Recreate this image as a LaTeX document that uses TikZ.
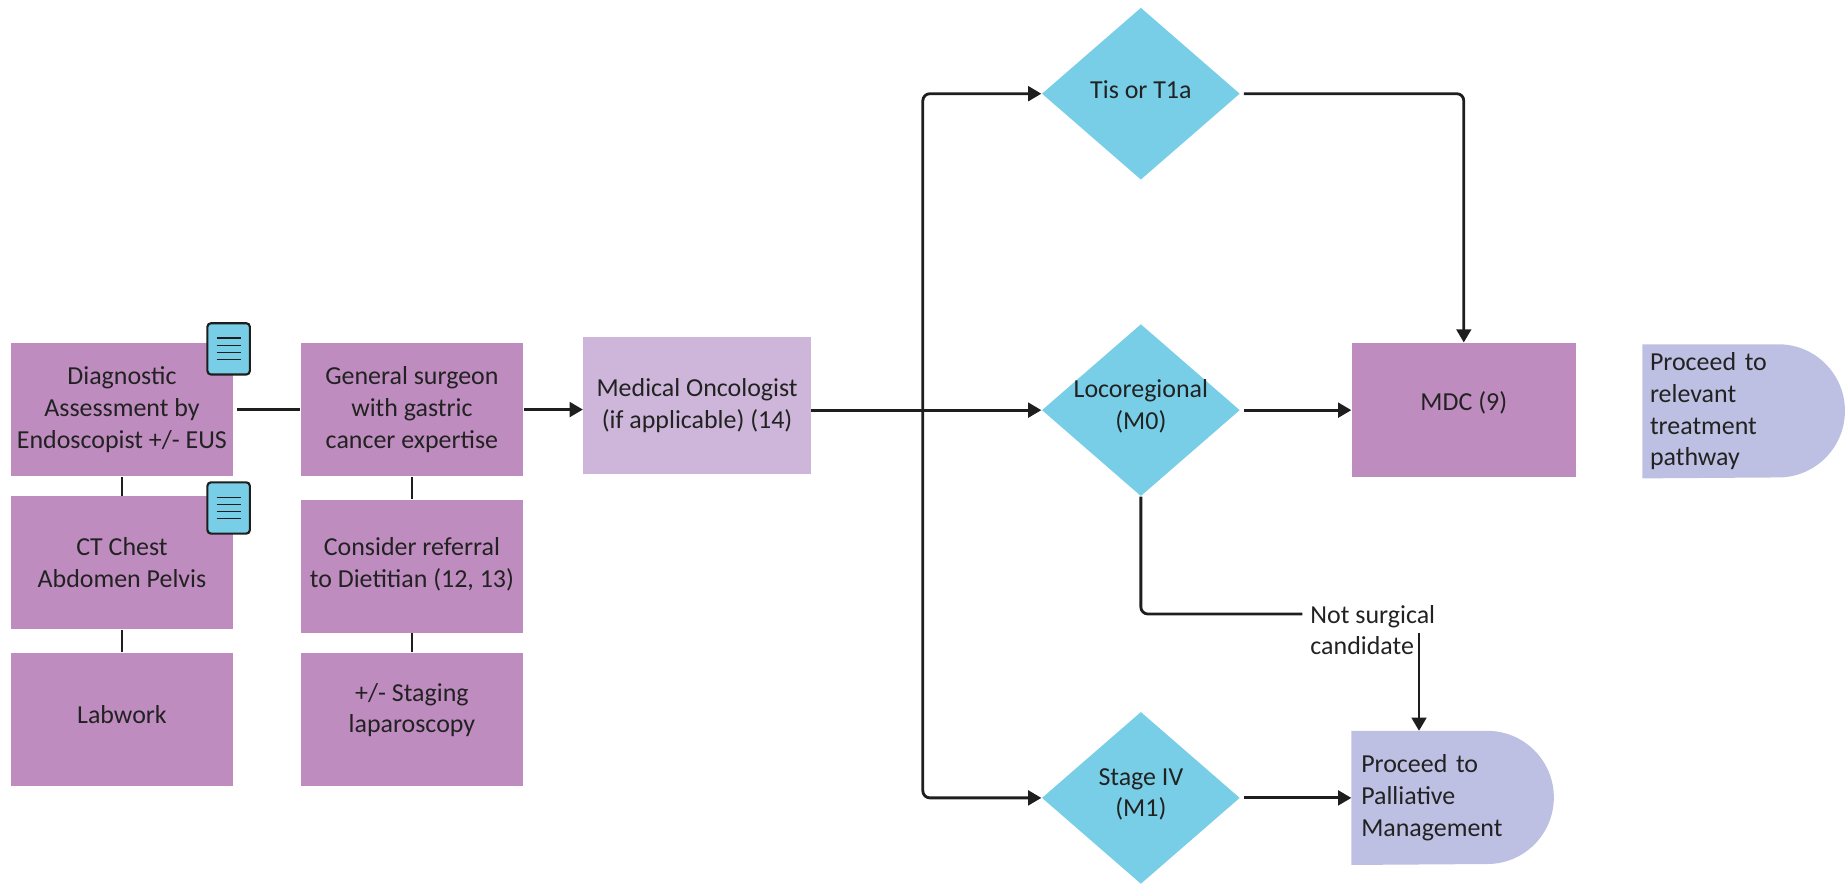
\documentclass[tikz,border=0pt]{standalone}
\usepackage{fontspec}
\setmainfont{Carlito}
\usetikzlibrary{shapes.geometric,arrows.meta,backgrounds}
\definecolor{boxc}{HTML}{BF8CC0}
\definecolor{oncc}{HTML}{CDB6D9}
\definecolor{diac}{HTML}{77CEE6}
\definecolor{delc}{HTML}{BDC0E2}
\definecolor{lnc}{HTML}{1E1E1E}
\definecolor{txc}{HTML}{222222}
\tikzset{
  txt/.style={font=\fontsize{11}{13.5}\selectfont, text=txc},
  pbox/.style={txt, fill=boxc, minimum width=94.5pt, minimum height=56.5pt, inner sep=0pt, align=center},
  obox/.style={pbox, fill=oncc, minimum width=96.5pt, minimum height=58pt},
  dbox/.style={diamond, fill=diac, minimum width=84pt, minimum height=73pt, inner sep=0pt},
  dlbl/.style={txt, align=center, yshift=1.5pt},
  blbl/.style={txt, align=center},
  delay/.style={txt, minimum height=56.5pt, inner ysep=0pt, align=left},
  conn/.style={draw=lnc, line width=1.2pt},
  arr/.style={conn, -{Triangle[length=5.6pt,width=6.2pt]}},
  docicon/.pic={
    \draw[fill=diac, draw=lnc, line width=0.9pt, rounded corners=1.5pt] (-18,-21.75) rectangle (18,21.75);
    \foreach \yy in {-9,-3,3,9} \draw[lnc, line width=0.7pt] (-10.25,\yy) -- (10.25,\yy);
  }
}
\begin{document}
\begin{tikzpicture}[x=0.5pt, y=-0.5pt]
\useasboundingbox (0,0) rectangle (1568,750);
% left column
\node[pbox] (diag) at (103.5,347.5) {Diagnostic\\Assessment by\\Endoscopist +/- EUS};
\node[pbox] (ct) at (103.5,477.5) {CT Chest\\Abdomen Pelvis};
\node[pbox, label={[blbl, yshift=2pt]center:Labwork}] (lab) at (103.5,610.5) {};
\pic at (194,296) {docicon};
\pic at (194,431) {docicon};
% middle column
\node[pbox] (gen) at (349.5,347.5) {General surgeon\\with gastric\\cancer expertise};
\node[pbox, label={[blbl, yshift=1pt]center:Consider referral\\to Dietitian (12, 13)}] (diet) at (349.5,480.5) {};
\node[pbox, label={[blbl, yshift=4pt]center:+/- Staging\\laparoscopy}] (stag) at (349.5,610.5) {};
\node[obox] (onc) at (591.5,344) {Medical Oncologist\\(if applicable) (14)};
% diamonds
\node[dbox, label={[dlbl]center:Tis or T1a}] (tis) at (968,79.5) {};
\node[dbox, label={[dlbl]center:Locoregional\\(M0)}] (loco) at (968,348) {};
\node[dbox, label={[dlbl]center:Stage IV\\(M1)}] (stg) at (968,677) {};
% right
\node[pbox, minimum width=95pt, minimum height=57pt, label={[blbl, yshift=3pt]center:MDC (9)}] (mdc) at (1242,348) {};
\node[delay, text width=79.5pt, inner xsep=3pt] (rel) at (1479.5,349) {Proceed to\\relevant\\treatment\\pathway};
\node[delay, text width=77.5pt, inner xsep=4pt] (pal) at (1232.5,677) {Proceed to\\Palliative\\Management};
\begin{scope}[on background layer]
  \fill[delc] (rel.north west) -- ([xshift=-28.25pt]rel.north east) arc[start angle=90, end angle=-90, radius=28.25pt] -- (rel.south west) -- cycle;
  \fill[delc] (pal.north west) -- ([xshift=-28.25pt]pal.north east) arc[start angle=90, end angle=-90, radius=28.25pt] -- (pal.south west) -- cycle;
\end{scope}
\node[txt, align=left, anchor=north west, inner sep=0pt] (nsc) at (1111.5,513) {Not surgical\\candidate};
% connectors
\draw[conn] ([xshift=1.5pt]diag.east) -- (gen.west);
\draw[conn] (diag.south) -- (ct.north);
\draw[conn] (ct.south) -- (lab.north);
\draw[conn] (gen.south) -- (diet.north);
\draw[conn] (diet.south) -- (stag.north);
\draw[arr] (gen.east) -- (gen.east -| onc.west);
\coordinate (jn) at (783,348);
\draw[conn] (onc.east |- jn) -- (jn);
\draw[arr] (jn) -- (loco.west);
\draw[arr, rounded corners=3pt] (jn) |- (tis.west);
\draw[arr, rounded corners=3pt] (jn) |- (stg.west);
\draw[arr, rounded corners=3pt] ([xshift=1.5pt]tis.east) -| (mdc.north);
\draw[arr] ([xshift=1.5pt]loco.east) -- (mdc.west);
\coordinate (nsa) at (1105,521);
\coordinate (nsb) at (1204,537);
\draw[conn, rounded corners=3pt] (loco.south) |- (nsa);
\draw[arr] (nsb) -- (nsb |- pal.north);
\draw[arr] ([xshift=1.5pt]stg.east) -- (pal.west);
\end{tikzpicture}
\end{document}
